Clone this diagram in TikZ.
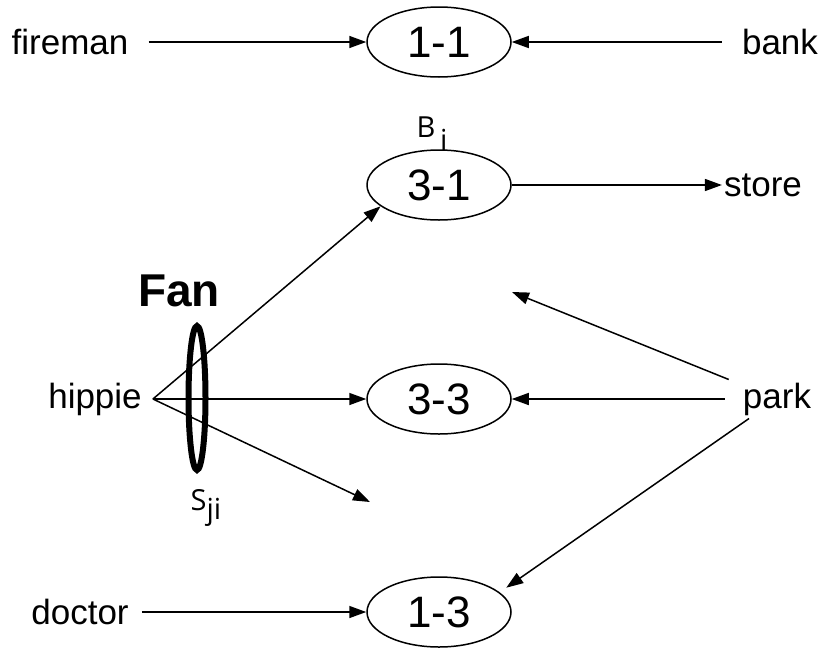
\documentclass[tikz,border=0pt]{standalone}
\usepackage{fontspec}
\setmainfont{Liberation Sans}
\newfontfamily\tagfont{Open Sans}
\usetikzlibrary{arrows.meta,shapes.geometric}

\begin{document}
\begin{tikzpicture}[x=1pt,y=-1pt,
   bubble/.style={draw, ellipse, line width=1.5pt, minimum width=144pt, minimum height=70pt, inner sep=0pt, font=\fontsize{44}{48}\selectfont},
   word/.style={inner xsep=14pt, inner ysep=3pt, font=\fontsize{35}{40}\selectfont},
   conn/.style={line width=1.5pt, -{Triangle[length=17pt,width=12pt]}},
   tag/.style={inner sep=0pt, font=\tagfont\fontsize{29}{32}\selectfont}]
   \useasboundingbox (0,0) rectangle (829,653);
   \node[bubble] (e11) at (439,42) {1-1};
   \node[bubble] (e31) at (439,185) {3-1};
   \node[bubble] (e33) at (439,399) {3-3};
   \node[bubble] (e13) at (439,612) {1-3};
   \node[word, inner xsep=20pt] (fireman) at (70,42) {fireman};
   \node[word, inner xsep=20pt] (bank) at (780,42) {bank};
   \node[word, inner xsep=2pt] (store) at (763,185) {store};
   \node[word, inner xsep=11pt] (hippie) at (95,399) {hippie};
   \node[word, inner xsep=18pt] (park) at (777,399) {park};
   \node[word, inner xsep=13pt] (doctor) at (80,612) {doctor};
   \node[draw, ellipse, line width=6pt, minimum width=17pt, minimum height=144pt, inner sep=0pt] (fanring) at (197,398) {};
   \node[inner sep=0pt, font=\bfseries\fontsize{46}{50}\selectfont] (fan) at (179,291) {Fan};
   \node[tag] (bi) at (432,134) {B\,\raisebox{-0.45em}{i}};
   \node[tag] (sji) at (206,508) {S\raisebox{-0.3em}{ji}};
   \coordinate (fanend) at (370,502);
   \coordinate (parkend) at (512,292);
   \draw[conn] (fireman) -- (e11);
   \draw[conn] (bank) -- (e11);
   \draw[conn] (e31) -- (store);
   \draw[conn] (hippie.east) -- (e31.200);
   \draw[conn] (hippie.east) -- (e33);
   \draw[conn] (hippie.east) -- (fanend);
   \draw[conn] (park) -- (e33);
   \draw[conn] (park) -- (parkend);
   \draw[conn, shorten >=8pt] (park) -- (e13.18);
   \draw[conn] (doctor) -- (e13);
\end{tikzpicture}
\end{document}
